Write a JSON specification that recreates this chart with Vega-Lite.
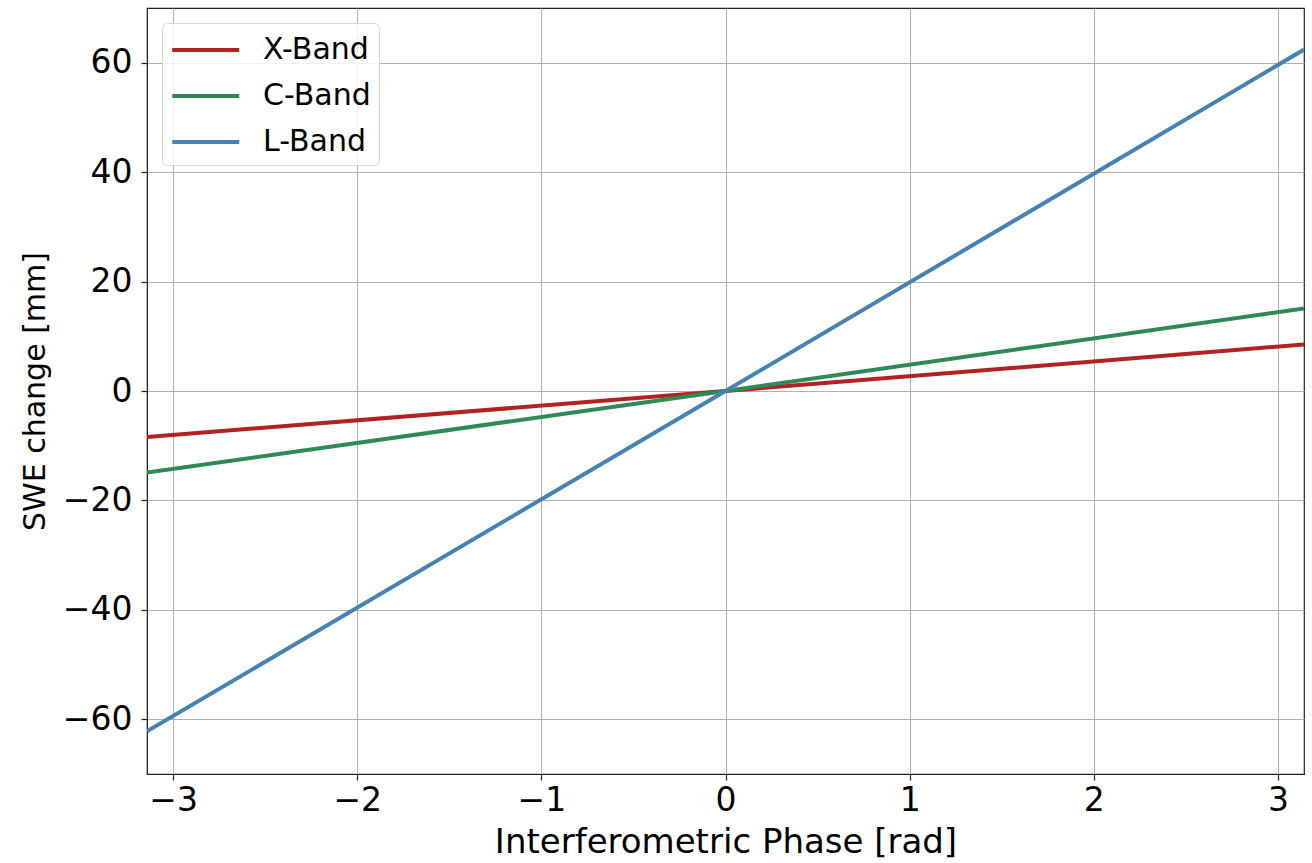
{
  "$schema": "https://vega.github.io/schema/vega-lite/v6.json",
  "width": 1157,
  "height": 766,
  "autosize": {"type": "none"},
  "padding": {"left": 147, "top": 8, "right": 8, "bottom": 89},
  "background": "white",
  "config": {
    "font": "DejaVu Sans",
    "view": {"stroke": "#222", "strokeWidth": 1.2},
    "axis": {
      "labelFont": "DejaVu Sans",
      "titleFont": "DejaVu Sans",
      "labelFontSize": 33,
      "titleFontSize": 33,
      "labelColor": "#000",
      "titleColor": "#000",
      "titleFontWeight": "normal",
      "gridColor": "#b0b0b0",
      "gridWidth": 1,
      "domainColor": "#222",
      "tickColor": "#222",
      "tickSize": 6,
      "tickWidth": 1.2
    }
  },
  "data": {
    "values": [
      {"phase": -3.14159, "swe": -8.4, "band": "X-Band"},
      {"phase": 0, "swe": 0, "band": "X-Band"},
      {"phase": 3.14159, "swe": 8.5, "band": "X-Band"},
      {"phase": -3.14159, "swe": -14.9, "band": "C-Band"},
      {"phase": 0, "swe": 0, "band": "C-Band"},
      {"phase": 3.14159, "swe": 15.1, "band": "C-Band"},
      {"phase": -3.14159, "swe": -62.2, "band": "L-Band"},
      {"phase": 0, "swe": 0, "band": "L-Band"},
      {"phase": 3.14159, "swe": 62.4, "band": "L-Band"}
    ]
  },
  "mark": {"type": "line", "strokeWidth": 4, "clip": true},
  "encoding": {
    "x": {
      "field": "phase",
      "type": "quantitative",
      "scale": {"domain": [-3.14159, 3.14159], "nice": false, "zero": false},
      "axis": {
        "title": "Interferometric Phase [rad]",
        "titleFontSize": 34,
        "values": [-3, -2, -1, 0, 1, 2, 3],
        "labelPadding": 4,
        "titlePadding": 8,
        "format": "d"
      }
    },
    "y": {
      "field": "swe",
      "type": "quantitative",
      "scale": {"domain": [-70, 70], "nice": false},
      "axis": {
        "title": "SWE change [mm]",
        "titleFontSize": 30,
        "values": [-60, -40, -20, 0, 20, 40, 60],
        "labelPadding": 9,
        "titlePadding": 12,
        "format": "d"
      }
    },
    "color": {
      "field": "band",
      "type": "nominal",
      "scale": {
        "domain": ["X-Band", "C-Band", "L-Band"],
        "range": ["#b22222", "#2e8b57", "#4682b4"]
      },
      "legend": {
        "title": null,
        "orient": "none",
        "legendX": 15,
        "legendY": 15,
        "symbolType": "M-1,0H3",
        "symbolSize": 1122,
        "symbolStrokeWidth": 4,
        "symbolFillColor": "transparent",
        "labelFontSize": 30,
        "labelFont": "DejaVu Sans",
        "labelColor": "#000",
        "labelOffset": 55,
        "rowPadding": 12,
        "padding": 8,
        "strokeColor": "#d8d8d8",
        "fillColor": "rgba(255,255,255,0.8)",
        "cornerRadius": 5
      }
    }
  }
}
